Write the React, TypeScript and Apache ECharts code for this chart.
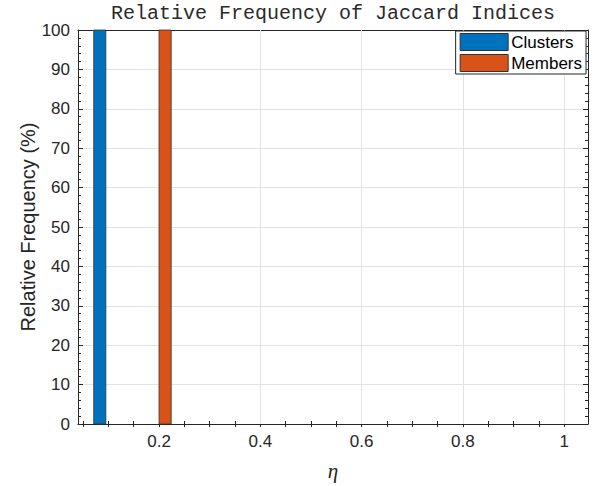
import React, { useEffect, useRef } from "react";
import * as echarts from "echarts";

const titleText = "Relative Frequency of Jaccard Indices";
const seriesNames = ["Clusters", "Members"];
const seriesColors = ["#0072BD", "#D95319"];
// bins: [left edge, right edge, relative frequency %]
const clusterBins = [[0.071, 0.095, 100]];
const memberBins = [[0.2, 0.224, 100]];
const xMajorTicks = [0.2, 0.4, 0.6, 0.8, 1];
const xMinorTicks = [0.05, 0.1, 0.15, 0.2, 0.25, 0.3, 0.35, 0.4, 0.45, 0.5, 0.55, 0.6, 0.65, 0.7, 0.75, 0.8, 0.85, 0.9, 0.95, 1.0];
const xMin = 0.04;
const xMax = 1.047;
const yMin = 0;
const yMax = 100;
const yStep = 10;

const AX = "#262626";
const GRID = "#e3e3e3";
const SANS = "'Liberation Sans', Arial, sans-serif";

export default function App() {
  const ref = useRef<HTMLDivElement>(null);
  useEffect(() => {
    if (!ref.current) return;
    const chart = echarts.init(ref.current, null, { renderer: "svg" });
    const makeSeries = (name: string, color: string, data: number[][]) => ({
      type: "custom",
      name,
      xAxisIndex: 0,
      yAxisIndex: 0,
      z: 3,
      itemStyle: { color, borderColor: AX, borderWidth: 1 },
      encode: { x: [0, 1], y: 2 },
      data,
      renderItem: (params: any, api: any) => {
        const p0 = api.coord([api.value(0), api.value(2)]);
        const p1 = api.coord([api.value(1), 0]);
        return {
          type: "rect",
          shape: { x: p0[0], y: p0[1], width: p1[0] - p0[0], height: p1[1] - p0[1] },
          style: { fill: color, stroke: "#333", lineWidth: 0.8 },
        };
      },
    });
    const xBase = {
      type: "value",
      min: xMin,
      max: xMax,
      axisLine: { show: false },
      axisLabel: { show: false },
      splitLine: { show: false },
    };
    const yBase = {
      type: "value",
      min: yMin,
      max: yMax,
      interval: yStep,
    };
    chart.setOption({
      animation: false,
      grid: { left: 78, right: 7, top: 30, bottom: 61, containLabel: false },
      graphic: [
        {
          type: "text",
          x: 333,
          y: 3,
          style: {
            text: titleText,
            fill: "#2a2a2a",
            font: "normal 20px 'Liberation Mono', 'Courier New', monospace",
            textAlign: "center",
            textVerticalAlign: "top",
          },
        },
      ],
      legend: {
        z: 20,
        zlevel: 0,
        orient: "vertical",
        right: 9,
        top: 31,
        padding: [2, 4, 2, 4],
        itemGap: 3,
        itemWidth: 48,
        itemHeight: 17,
        borderColor: AX,
        borderWidth: 1,
        backgroundColor: "#fff",
        textStyle: { fontSize: 17, fontFamily: SANS, color: "#000", padding: [0, 0, 0, -2] },
        data: seriesNames.map((n, i) => ({
          name: n,
          icon: "rect",
          itemStyle: { color: seriesColors[i], borderColor: "#333", borderWidth: 1 },
        })),
      },
      xAxis: [
        {
          ...xBase,
          position: "bottom",
          axisLine: { show: true, onZero: false, lineStyle: { color: AX, width: 1 } },
          axisTick: { show: true, inside: true, length: 5, customValues: xMajorTicks, lineStyle: { color: AX } },
          axisLabel: {
            show: true,
            customValues: xMajorTicks,
            margin: 9,
            fontSize: 17,
            fontFamily: SANS,
            color: AX,
          },
          name: "η",
          nameLocation: "middle",
          nameGap: 36,
          nameMoveOverlap: false,
          nameTextStyle: { fontSize: 21, fontStyle: "italic", fontFamily: "'Liberation Serif', serif", color: AX },
        },
        {
          ...xBase,
          position: "bottom",
          axisTick: { show: true, inside: true, length: 3, customValues: xMinorTicks, lineStyle: { color: AX } },
        },
        {
          ...xBase,
          position: "top",
          axisLine: { show: true, onZero: false, lineStyle: { color: AX, width: 1 } },
          axisTick: { show: true, inside: true, length: 5, customValues: xMajorTicks, lineStyle: { color: AX } },
        },
        {
          ...xBase,
          position: "top",
          axisTick: { show: true, inside: true, length: 3, customValues: xMinorTicks, lineStyle: { color: AX } },
        },
      ],
      yAxis: [
        {
          ...yBase,
          position: "left",
          axisLine: { show: true, onZero: false, lineStyle: { color: AX, width: 1 } },
          axisTick: { show: true, inside: true, length: 5, lineStyle: { color: AX } },
          minorTick: { show: true, splitNumber: 5, length: 3, lineStyle: { color: AX } },
          axisLabel: { fontSize: 17, fontFamily: SANS, color: AX, margin: 8 },
          splitLine: { show: true, lineStyle: { color: GRID, width: 1 } },
          name: "Relative Frequency (%)",
          nameLocation: "middle",
          nameGap: 40,
          nameMoveOverlap: false,
          nameTextStyle: { fontSize: 20, fontFamily: SANS, color: AX },
        },
        {
          ...yBase,
          position: "right",
          axisLine: { show: true, onZero: false, lineStyle: { color: AX, width: 1 } },
          axisTick: { show: true, inside: true, length: 5, lineStyle: { color: AX } },
          minorTick: { show: true, splitNumber: 5, length: 3, lineStyle: { color: AX } },
          axisLabel: { show: false },
          splitLine: { show: false },
        },
      ],
      series: [
        {
          type: "line",
          name: "grid",
          data: [],
          xAxisIndex: 0,
          yAxisIndex: 0,
          z: 1,
          silent: true,
          markLine: {
            silent: true,
            z: 1,
            symbol: ["none", "none"],
            label: { show: false },
            lineStyle: { color: GRID, width: 1, type: "solid" },
            data: xMajorTicks.map((v) => ({ xAxis: v })),
          },
        },
        makeSeries(seriesNames[0], seriesColors[0], clusterBins),
        makeSeries(seriesNames[1], seriesColors[1], memberBins),
      ],
    });
    return () => chart.dispose();
  }, []);
  return <div ref={ref} style={{ width: 595, height: 486, position: "absolute", left: 0, top: 0 }} />;
}
